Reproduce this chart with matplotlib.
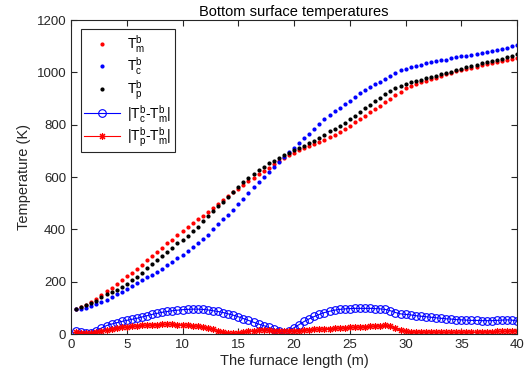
import numpy as np
import matplotlib.pyplot as plt

plt.rcParams['font.family'] = ['Liberation Sans', 'DejaVu Sans']
plt.rcParams['mathtext.fontset'] = 'custom'
plt.rcParams['mathtext.rm'] = 'Liberation Sans'
plt.rcParams['mathtext.it'] = 'Liberation Sans:italic'

# furnace positions (m), 88 evenly spaced sample points
x = np.linspace(40 / 88, 40, 88)

# measured / computed bottom temperatures (K)
T_m = [94, 103, 112, 123, 135, 149, 163, 177, 191, 206,
       220, 234, 249, 264, 281, 297, 314, 330, 346, 361,
       377, 393, 408, 423, 438, 452, 467, 483, 498, 512,
       527, 542, 556, 571, 585, 598, 611, 624, 636, 649,
       661, 673, 683, 692, 702, 712, 720, 727, 734, 743,
       752, 762, 772, 783, 795, 809, 823, 835, 847, 859,
       872, 886, 900, 913, 926, 939, 948, 956, 962, 968,
       974, 980, 986, 992, 998, 1004, 1010, 1014, 1018, 1022,
       1027, 1031, 1035, 1039, 1043, 1047, 1051, 1056]

T_c = [94, 97, 101, 106, 113, 121, 131, 141, 152, 162,
       172, 183, 194, 205, 216, 227, 238, 250, 262, 275,
       289, 302, 316, 331, 347, 363, 380, 400, 420, 438,
       456, 475, 496, 517, 539, 561, 580, 600, 618, 637,
       657, 675, 694, 712, 731, 748, 766, 785, 802, 820,
       837, 851, 865, 878, 892, 907, 921, 933, 945, 957,
       965, 975, 986, 997, 1008, 1013, 1019, 1025, 1029, 1034,
       1038, 1042, 1046, 1049, 1053, 1057, 1061, 1064, 1068, 1071,
       1075, 1079, 1083, 1087, 1091, 1095, 1100, 1104]

T_p = [96, 102, 109, 117, 127, 140, 152, 160, 167, 179,
       192, 205, 219, 235, 251, 266, 282, 298, 314, 330,
       346, 361, 376, 392, 410, 430, 450, 470, 488, 506,
       525, 544, 563, 580, 596, 612, 628, 640, 652, 662,
       673, 684, 693, 702, 711, 720, 730, 739, 749, 762,
       775, 785, 795, 806, 820, 835, 850, 863, 877, 890,
       903, 917, 930, 940, 947, 957, 962, 967, 971, 977,
       982, 987, 992, 998, 1003, 1008, 1014, 1019, 1024, 1029,
       1034, 1039, 1043, 1048, 1052, 1058, 1064, 1069]

# absolute differences
d_cm = [10, 8, 4, 4, 12, 23, 32, 38, 43, 48,
        52, 56, 60, 65, 70, 75, 79, 83, 86, 89,
        91, 93, 94, 95, 95, 94, 92, 89, 86, 82,
        77, 72, 66, 59, 52, 45, 38, 32, 25, 18,
        10, 3, 12, 24, 36, 48, 58, 67, 75, 82,
        87, 91, 94, 96, 97, 98, 98, 98, 98, 97,
        96, 94, 89, 82, 77, 75, 73, 70, 68, 66,
        64, 62, 60, 58, 57, 55, 54, 53, 52, 52,
        51, 51, 51, 52, 53, 54, 53, 49]

d_pm = [6, 5, 3, 2, 8, 11, 15, 19, 22, 25,
        28, 30, 31, 33, 34, 35, 36, 37, 37, 37,
        36, 35, 34, 32, 30, 27, 23, 18, 13, 8,
        4, 2, 5, 8, 11, 13, 14, 15, 14, 13,
        12, 11, 11, 12, 13, 15, 17, 18, 19, 20,
        21, 22, 23, 24, 25, 26, 27, 28, 29, 31,
        32, 33, 30, 22, 15, 11, 9, 8, 8, 8,
        8, 8, 7, 7, 7, 7, 7, 8, 8, 8,
        9, 9, 9, 10, 10, 11, 12, 13]

fig = plt.figure(figsize=(5.32, 3.78), dpi=100)
ax = fig.add_axes([0.1335, 0.1164, 0.8385, 0.8306])

ax.plot(x, T_m, '.', color='#ff0000', ms=4, label=r'$\mathrm{T_m^b}$')
ax.plot(x, T_c, '.', color='#0000ff', ms=4, label=r'$\mathrm{T_c^b}$')
ax.plot(x, T_p, '.', color='#000000', ms=4, label=r'$\mathrm{T_p^b}$')
ax.plot(x, d_cm, '-o', color='#0000ff', lw=0.8, ms=5.5, mfc='none', mew=0.8,
        label=r'$\mathrm{|T_c^b}$-$\mathrm{T_m^b|}$')
ax.plot(x, d_pm, '-', color='#ff0000', marker=(8, 2, 0), lw=0.8, ms=5, mew=0.8,
        label=r'$\mathrm{|T_p^b}$-$\mathrm{T_m^b|}$')

ax.set_xlim(0, 40)
ax.set_ylim(0, 1200)
ax.set_xticks(np.arange(0, 41, 5))
ax.set_yticks(np.arange(0, 1201, 200))
ax.tick_params(direction='in', top=True, right=True, length=4, labelsize=9.5,
               color='#262626', labelcolor='#262626')
for s in ax.spines.values():
    s.set_color('#262626')
    s.set_linewidth(0.8)

ax.set_xlabel('The furnace length (m)', fontsize=10.5, color='#262626', labelpad=2)
ax.set_ylabel('Temperature (K)', fontsize=10.5, color='#262626', labelpad=4)
ax.set_title('Bottom surface temperatures', fontsize=10.5, pad=3)

leg = ax.legend(loc='upper left', bbox_to_anchor=(0.022, 0.97), fontsize=10,
                fancybox=False, edgecolor='#262626', framealpha=1,
                handlelength=2.6, handletextpad=0.5, borderpad=0.25,
                labelspacing=0.05, borderaxespad=0)
leg.get_frame().set_linewidth(0.8)

fig.savefig('out.png', dpi=100)
